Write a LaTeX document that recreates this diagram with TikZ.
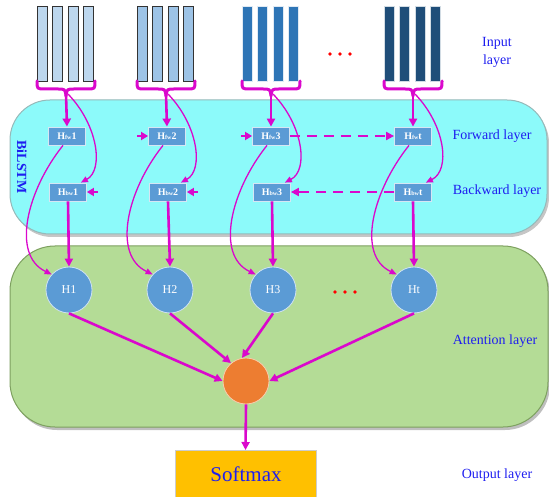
\documentclass[tikz,border=0pt]{standalone}
\usepackage{fontspec}
\setmainfont{Liberation Serif}
\usetikzlibrary{arrows.meta,calc}

\definecolor{mag}{RGB}{218,8,204}
\definecolor{boxblue}{RGB}{91,155,213}
\definecolor{lblblue}{RGB}{30,30,240}
\definecolor{cyanfill}{RGB}{140,250,250}
\definecolor{cyanedge}{RGB}{150,185,185}
\definecolor{greenfill}{RGB}{180,220,150}
\definecolor{greenedge}{RGB}{125,160,95}
\definecolor{barA}{RGB}{189,215,238}
\definecolor{barB}{RGB}{157,195,230}
\definecolor{barC}{RGB}{46,117,182}
\definecolor{barD}{RGB}{31,78,121}
\definecolor{orangec}{RGB}{237,125,49}
\definecolor{softmaxc}{RGB}{255,192,0}

\tikzset{
  hbox/.style={rectangle, fill=boxblue, draw=white!75!boxblue, line width=0.8pt,
    minimum width=37pt, minimum height=18pt, inner sep=0pt, text=white,
    font=\bfseries\fontsize{10}{10}\selectfont},
  hnode/.style={circle, fill=boxblue, draw=white!70!boxblue, line width=0.8pt,
    minimum size=46pt, inner sep=0pt, text=white, font=\fontsize{12}{12}\selectfont},
  lbl/.style={text=lblblue, font=\fontsize{14}{18}\selectfont, align=center, inner sep=0pt},
  bigarrow/.style={draw=mag, line width=2.6pt, -{Triangle[length=8pt,width=8pt]}},
  thinarrow/.style={draw=mag, line width=1.3pt, -{Triangle[length=7pt,width=6pt]}},
  dasharrow/.style={draw=mag, line width=2.5pt, dash pattern=on 10pt off 7pt,
    -{Triangle[length=8pt,width=8pt]}},
  bracepath/.style={draw=mag, line width=3pt, line cap=round, line join=round},
}

\newcommand{\sub}[1]{{\fontsize{6}{6}\selectfont #1}}

\begin{document}
\begin{tikzpicture}[x=1pt,y=-1pt]
\useasboundingbox (0,0) rectangle (549,497);

% layer backgrounds
\fill[gray!45, rounded corners=40pt] (12,103) rectangle (549,237);
\draw[fill=cyanfill, draw=cyanedge, line width=1pt, rounded corners=40pt] (10,100) rectangle (547,234);
\fill[gray!50, rounded corners=45pt] (12,249) rectangle (550,430);
\draw[fill=greenfill, draw=greenedge, line width=1pt, rounded corners=45pt] (10,246) rectangle (548,427);

% input word vectors
\foreach \x/\fc/\ec in {37/barA/black!80, 137/barB/black!80, 242/barC/white!85!barC, 384/barD/white!80!barD}{
  \foreach \k in {0,1,2,3}{
    \draw[fill=\fc, draw=\ec, line width=1pt] (\x+15.5*\k,7) rectangle ++(10,75);
  }
}

% braces gathering each group of vectors
\foreach \c/\i in {66/1,166/2,271/3,413/4}{
  \draw[bracepath] (\c-29,81) .. controls (\c-29,89) .. (\c-21,89) -- (\c-8,89)
     .. controls (\c-1,89) .. (\c,96) .. controls (\c+1,89) .. (\c+8,89)
     -- (\c+21,89) .. controls (\c+29,89) .. (\c+29,81);
  \coordinate (tip\i) at (\c,95);
}

% BiLSTM cells
\node[hbox] (fw1) at (67,136) {H\sub{fw}1};
\node[hbox] (fw2) at (167,136) {H\sub{fw}2};
\node[hbox] (fw3) at (271,136) {H\sub{fw}3};
\node[hbox] (fw4) at (413,136) {H\sub{fw}t};
\node[hbox] (bw1) at (68,192) {H\sub{bw}1};
\node[hbox] (bw2) at (168,192) {H\sub{bw}2};
\node[hbox] (bw3) at (272,192) {H\sub{bw}3};
\node[hbox] (bw4) at (413,192) {H\sub{bw}t};

% attention inputs
\node[hnode] (h1) at (69,290) {H1};
\node[hnode] (h2) at (170,290) {H2};
\node[hnode] (h3) at (273,290) {H3};
\node[hnode] (h4) at (414,290) {Ht};

\node[circle, fill=orangec, draw=white!60!orangec, line width=0.8pt, minimum size=46pt, inner sep=0pt] (att) at (246,381) {};

\node[rectangle, fill=softmaxc, draw=gray!40, line width=0.8pt, minimum width=141pt, minimum height=50pt,
  inner sep=0pt, text=lblblue, font=\fontsize{21}{21}\selectfont, anchor=north] (soft) at (245.5,450) {};
\node[text=lblblue, font=\fontsize{21}{21}\selectfont, inner sep=0pt] (softtxt) at (246,474) {Softmax};

% connectors from the inputs
\foreach \i in {1,2,3,4}{
  \draw[bigarrow] (tip\i) -- (fw\i.north);
  \draw[thinarrow] ($(tip\i)+(2,-1)$) .. controls ($(tip\i)+(32,30)$) and ($(tip\i)+(38,75)$) .. ($(bw\i.north east)+(-6,0)$);
  \draw[thinarrow] ($(fw\i.south)+(-4,0)$) .. controls ($(fw\i.south)+(-40,45)$) and ($(h\i.center)+(-58,-35)$) .. (h\i.138);
  \draw[bigarrow] (bw\i.south) -- (h\i.north);
}

% recurrent links
\coordinate (in2) at ($(fw2.west)+(-11,0)$);
\coordinate (in3) at ($(fw3.west)+(-11,0)$);
\coordinate (in5) at ($(bw1.east)+(11,0)$);
\coordinate (in6) at ($(bw2.east)+(11,0)$);
\draw[draw=mag, line width=2.5pt, -{Triangle[length=7pt,width=8pt]}] (in2) -- (fw2.west);
\draw[draw=mag, line width=2.5pt, -{Triangle[length=7pt,width=8pt]}] (in3) -- (fw3.west);
\draw[draw=mag, line width=2.5pt, -{Triangle[length=7pt,width=8pt]}] (in5) -- (bw1.east);
\draw[draw=mag, line width=2.5pt, -{Triangle[length=7pt,width=8pt]}] (in6) -- (bw2.east);
\draw[dasharrow] (fw3.east) -- (fw4.west);
\draw[dasharrow] (bw4.west) -- (bw3.east);

% attention pooling
\draw[bigarrow] (h1.south) -- (att.180);
\draw[bigarrow] (h2.south) -- (att.130);
\draw[bigarrow] (h3.south) -- (att.100);
\draw[bigarrow] (h4.south) -- (att.0);
\draw[bigarrow] (att.south) -- (soft.north);

% ellipses
\foreach \x in {330,340,350}{ \fill[red] (\x,54) circle (1.9); }
\foreach \x in {335,345,355}{ \fill[red] (\x,292) circle (1.9); }

% layer names
\node[lbl] (lin) at (497,52) {Input\\layer};
\node[lbl] (lfw) at (492,136) {Forward layer};
\node[lbl] (lbw) at (497,191) {Backward layer};
\node[lbl] (lat) at (495,341) {Attention layer};
\node[lbl] (lout) at (497,475) {Output layer};
\node[text=lblblue, font=\bfseries\fontsize{14}{14}\selectfont, rotate=-90, inner sep=0pt] (lbi) at (22,167) {BiLSTM};
\end{tikzpicture}
\end{document}
